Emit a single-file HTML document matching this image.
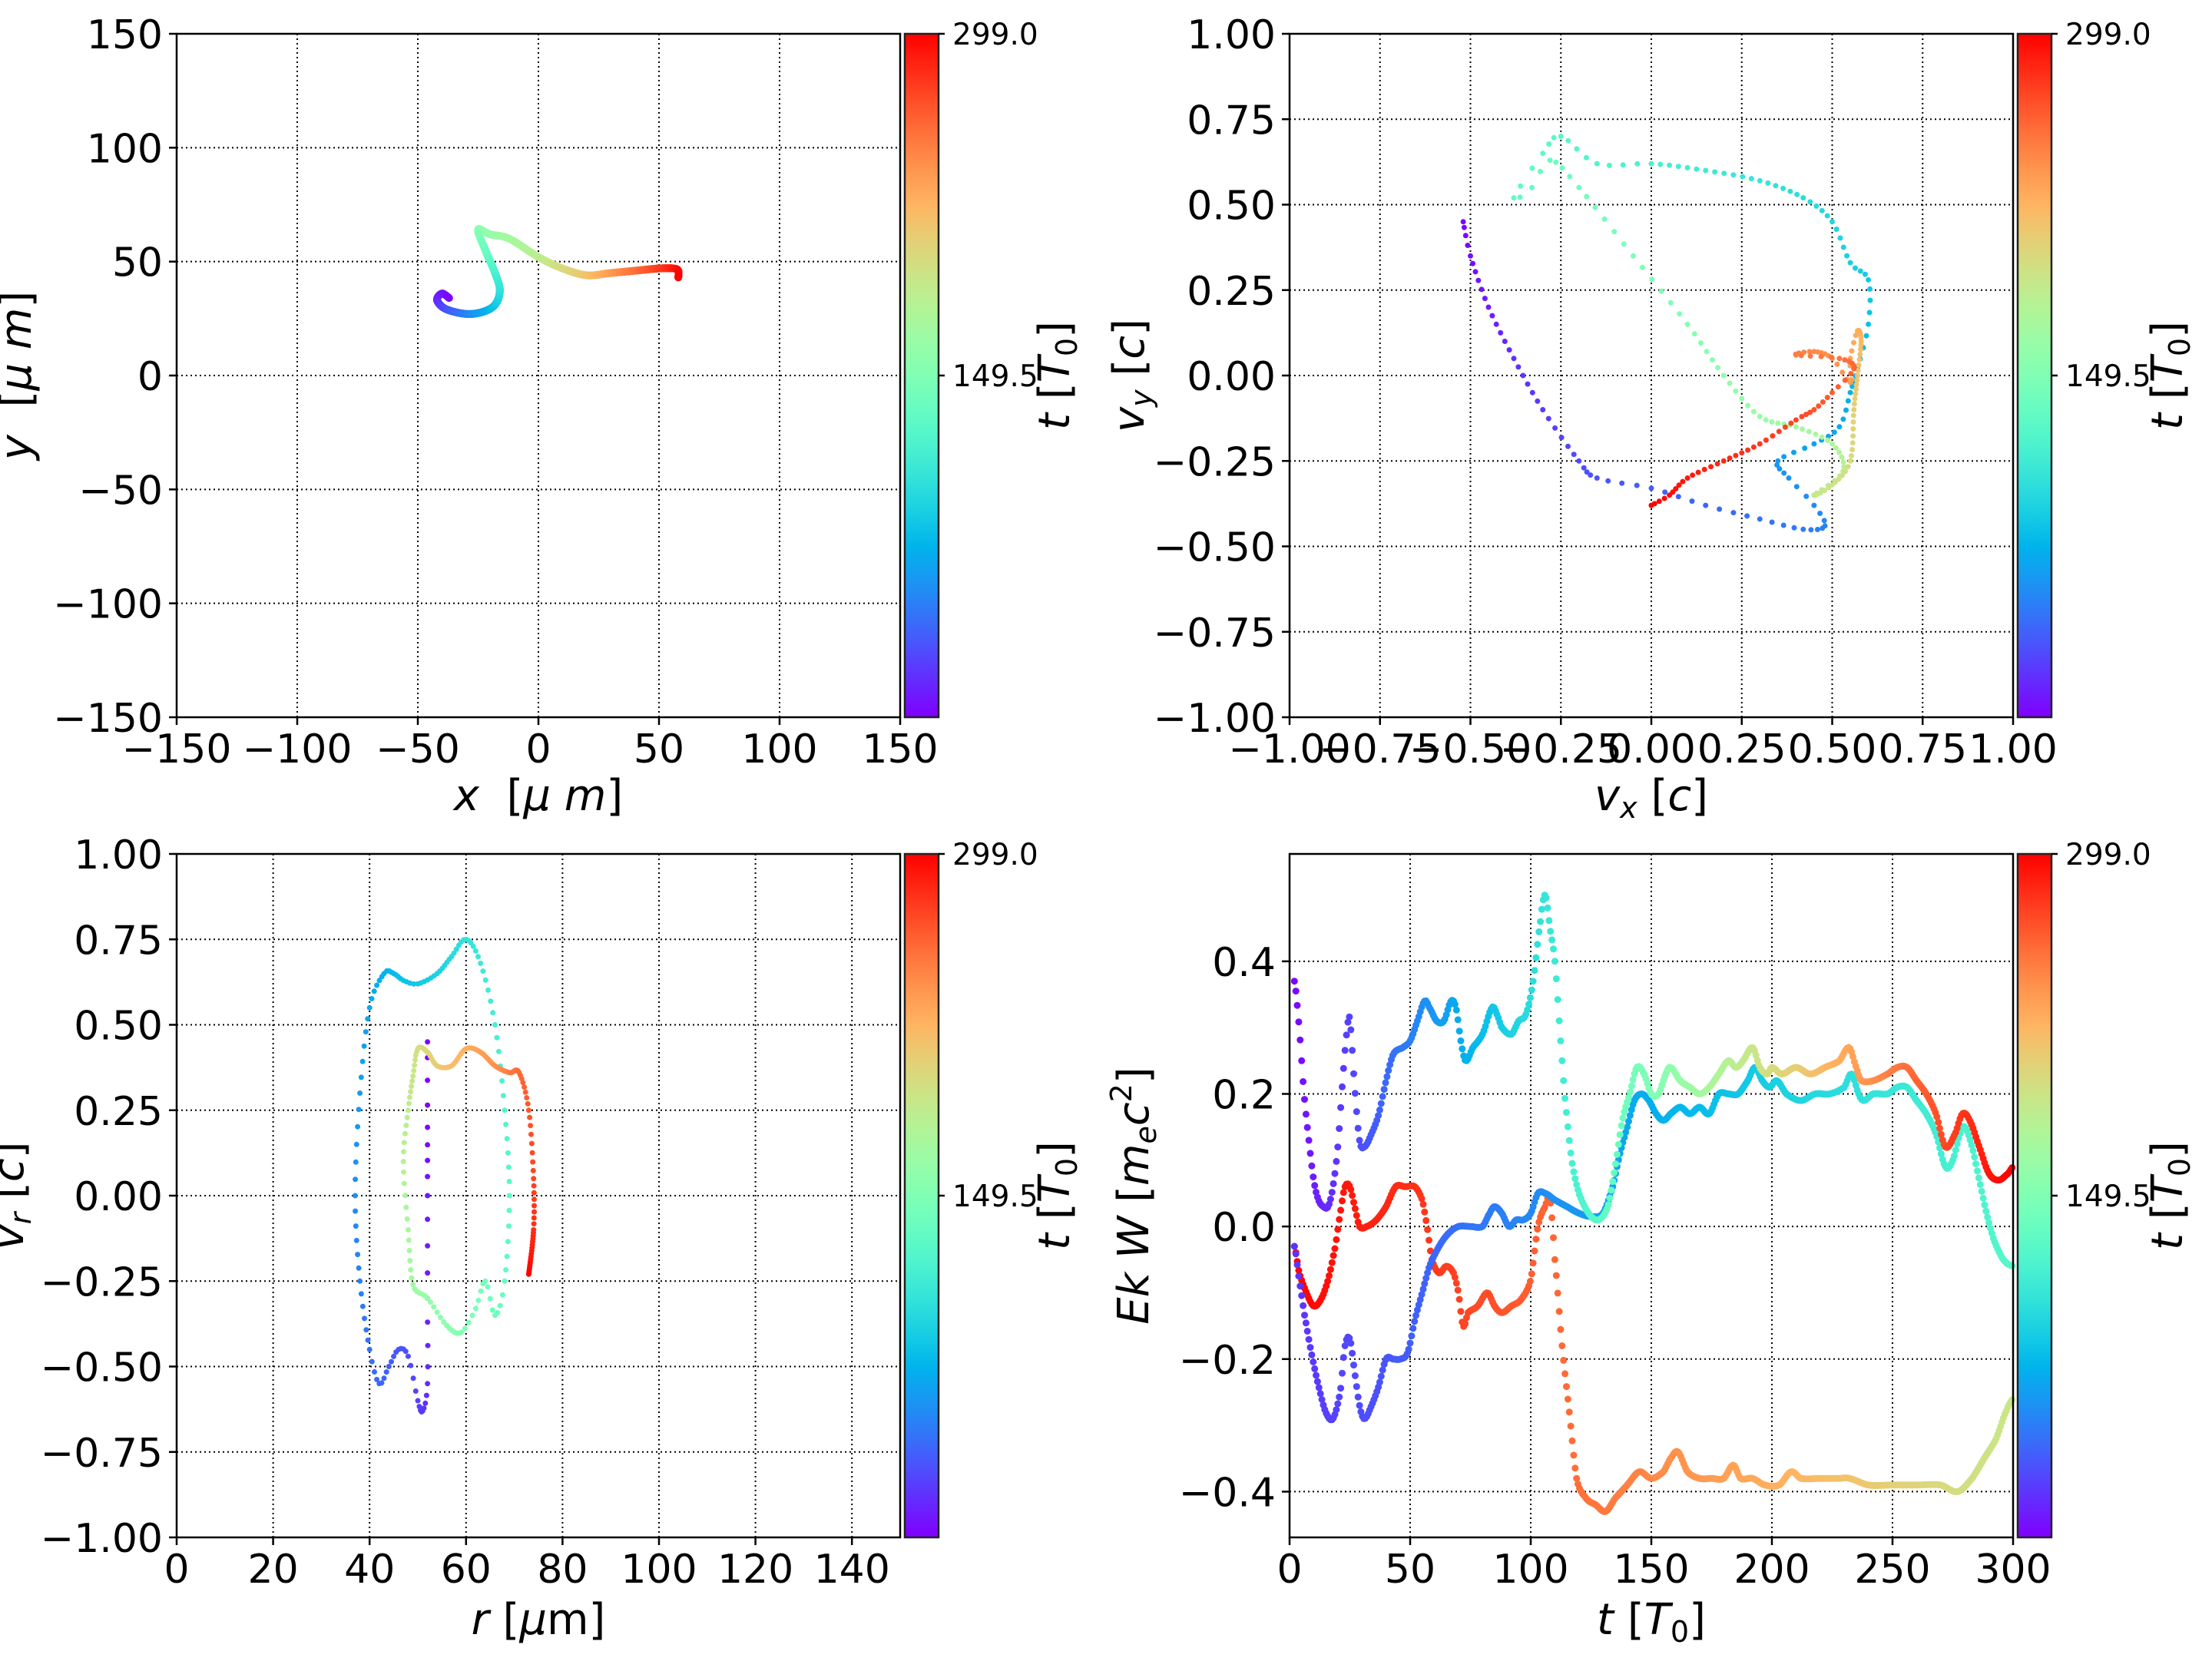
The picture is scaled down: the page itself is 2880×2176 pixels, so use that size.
<!DOCTYPE html>
<html><head><meta charset="utf-8">
<style>
html,body{margin:0;padding:0;background:#fff;}
svg{display:block;}
text{font-family:"DejaVu Sans","Liberation Sans",sans-serif;fill:#000;}
</style></head>
<body>
<svg id="s" xmlns="http://www.w3.org/2000/svg" width="2880" height="2176" viewBox="0 0 2880 2176">
<defs>
<linearGradient id="cb" x1="0" y1="1" x2="0" y2="0"></linearGradient>
</defs>
<g id="root"></g>
</svg>
<script>
const NS="http://www.w3.org/2000/svg";
const root=document.getElementById('root');
function rb(c){c=Math.max(0,Math.min(1,c));
 let r=Math.min(1,Math.abs(2*c-0.5)),g=Math.sin(Math.PI*c),b=Math.cos(Math.PI*c/2);
 return 'rgb('+Math.round(r*255)+','+Math.round(Math.max(0,g)*255)+','+Math.round(Math.max(0,b)*255)+')';}
const gr=document.getElementById('cb');
for(let i=0;i<=20;i++){const st=document.createElementNS(NS,'stop');st.setAttribute('offset',(i/20));st.setAttribute('stop-color',rb(i/20));gr.appendChild(st);}
let out='';
function T(x,y,s,sz,anchor,extra){out+=`<text x="${x}" y="${y}" font-size="${sz}" text-anchor="${anchor}" ${extra||''}>${s}</text>`;}
function fmt(v,d){let s=v.toFixed(d);if(Math.abs(v)<1e-9)s=(0).toFixed(d);return s.replace('-','\u2212');}
function axes(P){
 const {x0,x1,y0,y1,xl,yl,xt,yt,xd,yd}=P;
 const X=v=>x0+(v-xl[0])/(xl[1]-xl[0])*(x1-x0);
 const Y=v=>y1-(v-yl[0])/(yl[1]-yl[0])*(y1-y0);
 P.X=X;P.Y=Y;
 for(const v of xt){const px=X(v);
  out+=`<line x1="${px}" y1="${y0}" x2="${px}" y2="${y1}" stroke="#000" stroke-width="2" stroke-dasharray="2,4"/>`;
  out+=`<line x1="${px}" y1="${y1}" x2="${px}" y2="${y1+10}" stroke="#000" stroke-width="2.5"/>`;
  T(px,y1+59,fmt(v,xd),52,'middle');}
 for(const v of yt){const py=Y(v);
  out+=`<line x1="${x0}" y1="${py}" x2="${x1}" y2="${py}" stroke="#000" stroke-width="2" stroke-dasharray="2,4"/>`;
  out+=`<line x1="${x0-10}" y1="${py}" x2="${x0}" y2="${py}" stroke="#000" stroke-width="2.5"/>`;
  T(x0-18,py+19,fmt(v,yd),52,'end');}
}
function frame(P){out+=`<rect x="${P.x0}" y="${P.y0}" width="${P.x1-P.x0}" height="${P.y1-P.y0}" fill="none" stroke="#000" stroke-width="2.5"/>`;}
function cbar(cx,y0,y1,lblx){
 out+=`<rect x="${cx}" y="${y0}" width="44" height="${y1-y0}" fill="url(#cb)" stroke="#222" stroke-width="2.5"/>`;
 const ym=(y0+y1)/2;
 out+=`<line x1="${cx+44}" y1="${y0}" x2="${cx+52}" y2="${y0}" stroke="#000" stroke-width="2.5"/>`;
 out+=`<line x1="${cx+44}" y1="${ym}" x2="${cx+52}" y2="${ym}" stroke="#000" stroke-width="2.5"/>`;
 T(cx+62,y0+14,'299.0',39,'start');T(cx+62,ym+14,'149.5',39,'start');
 out+=`<text transform="translate(${lblx},${ym}) rotate(-90)" font-size="56" text-anchor="middle"><tspan font-style="italic">t</tspan> [<tspan font-style="italic">T</tspan><tspan font-size="38" dy="10">0</tspan><tspan dy="-10">]</tspan></text>`;
}
function cr(p0,p1,p2,p3,f){const f2=f*f,f3=f2*f;
 return 0.5*((2*p1)+(-p0+p2)*f+(2*p0-5*p1+4*p2-p3)*f2+(-p0+3*p1-3*p2+p3)*f3);}
function gen(P,pts,dt,r,cf,mode){
 if(mode==='ty')pts=pts.map(p=>[p[0],p[0],p[1]]);
 const n=pts.length,t0=pts[0][0],tn=pts[n-1][0];let k=0;
 for(let t=t0;t<=tn+1e-9;t+=dt){
  while(k<n-2&&pts[k+1][0]<t)k++;
  const p0=pts[Math.max(0,k-1)],p=pts[k],q=pts[k+1],q2=pts[Math.min(n-1,k+2)];
  const f=Math.max(0,Math.min(1,(t-p[0])/(q[0]-p[0]||1)));
  let a,b;
  if(mode==='ty'){a=t;}else{a=cr(p0[1],p[1],q[1],q2[1],f);}
  b=cr(p0[2],p[2],q[2],q2[2],f);
  out+=`<circle cx="${P.X(a).toFixed(1)}" cy="${P.Y(b).toFixed(1)}" r="${r}" fill="${rb(cf(t))}"/>`;
 }
}
const rng=(a,b,s)=>{let r=[];for(let v=a;v<=b+1e-9;v+=s)r.push(+v.toFixed(6));return r;};
const P1={x0:230,x1:1172,y0:44,y1:934,xl:[-150,150],yl:[-150,150],xt:rng(-150,150,50),yt:rng(-150,150,50),xd:0,yd:0};
const P2={x0:1679,x1:2621,y0:44,y1:934,xl:[-1,1],yl:[-1,1],xt:rng(-1,1,0.25),yt:rng(-1,1,0.25),xd:2,yd:2};
const P3={x0:230,x1:1172,y0:1112,y1:2002,xl:[0,150],yl:[-1,1],xt:rng(0,140,20),yt:rng(-1,1,0.25),xd:0,yd:2};
const P4={x0:1679,x1:2621,y0:1112,y1:2002,xl:[0,300],yl:[-0.469,0.562],xt:rng(0,300,50),yt:rng(-0.4,0.4,0.2),xd:0,yd:1};
[P1,P2,P3,P4].forEach(axes);
const ct=t=>t/299;
gen(P1,[[0,-37,34],[5,-40,36],[12,-42,33],[30,-38,29],[55,-28,27],[80,-19,30],[100,-16,37],[115,-18,45],[135,-22,55],[150,-25,64],[160,-20,62],[170,-12,60],[185,0,52],[200,10,47],[215,20,44],[235,30,45],[255,40,46],[275,50,47],[288,56,47],[294,58,46],[299,58,43]],0.25,5,ct);
gen(P2,[[0,-0.52,0.45],[4,-0.5,0.35],[10,-0.45,0.2],[16,-0.38,0.05],[22,-0.3,-0.1],[28,-0.2,-0.25],[32,-0.15,-0.3],[36,0.0,-0.33],[40,0.15,-0.38],[44,0.3,-0.42],[48,0.42,-0.45],[52,0.48,-0.44],[55,0.45,-0.38],[58,0.38,-0.3],[62,0.35,-0.25],[66,0.45,-0.2],[70,0.52,-0.15],[74,0.55,-0.05],[78,0.57,0.02],[82,0.6,0.15],[86,0.6,0.28],[90,0.55,0.33],[95,0.5,0.45],[100,0.42,0.52],[106,0.3,0.57],[112,0.15,0.6],[118,0.0,0.62],[122,-0.15,0.62],[126,-0.25,0.7],[129,-0.3,0.65],[132,-0.38,0.52],[134,-0.33,0.55],[136,-0.28,0.63],[140,-0.2,0.55],[146,-0.05,0.35],[152,0.1,0.15],[158,0.2,0.0],[164,0.3,-0.12],[170,0.4,-0.15],[176,0.5,-0.2],[182,0.53,-0.28],[188,0.45,-0.35],[194,0.5,-0.32],[200,0.55,-0.25],[208,0.56,-0.1],[215,0.57,0.0],[222,0.58,0.1],[228,0.57,0.13],[232,0.55,0.05],[236,0.55,-0.02],[240,0.5,0.05],[245,0.45,0.07],[250,0.4,0.06],[255,0.52,0.05],[260,0.56,0.02],[264,0.5,-0.05],[268,0.45,-0.1],[272,0.4,-0.13],[278,0.3,-0.2],[284,0.2,-0.25],[290,0.1,-0.3],[295,0.05,-0.35],[299,0.0,-0.38]],1,3.5,ct);
gen(P3,[[0,52,0.45],[4,52,0.2],[8,52,0],[12,52,-0.3],[16,52,-0.55],[20,51,-0.63],[24,50,-0.6],[28,48,-0.47],[32,46,-0.45],[36,44,-0.5],[40,42,-0.55],[44,40,-0.45],[50,38,-0.25],[56,37,0],[62,38,0.3],[68,40,0.55],[74,43,0.65],[78,45,0.65],[82,47,0.63],[86,50,0.62],[92,54,0.65],[98,57,0.7],[104,60,0.75],[110,63,0.68],[116,66,0.5],[122,68,0.25],[128,69,0],[134,68,-0.25],[138,66,-0.35],[142,64,-0.25],[146,62,-0.33],[150,59,-0.4],[156,56,-0.38],[162,52,-0.3],[168,49,-0.26],[174,48,-0.1],[180,47,0.1],[186,48,0.25],[192,49,0.35],[198,50,0.43],[204,52,0.42],[210,54,0.38],[218,57,0.38],[226,60,0.43],[234,63,0.42],[242,66,0.38],[250,69,0.36],[258,71,0.36],[266,73,0.25],[274,74,0.05],[282,74,-0.1],[299,73,-0.23]],1,3.5,ct);
const A=[[2,0.37],[4,0.3],[6,0.2],[8,0.13],[10,0.07],[12,0.04],[14,0.03],[16,0.03],[18,0.06],[20,0.12],[22,0.22],[24,0.3],[25,0.31],[27,0.21],[29,0.13],[31,0.12],[34,0.14],[37,0.17],[40,0.22],[43,0.26],[47,0.27],[50,0.28],[53,0.31],[56,0.34],[58,0.33],[61,0.31],[64,0.31],[67,0.34],[69,0.33],[71,0.28],[73,0.25],[76,0.27],[80,0.29],[84,0.33],[86,0.32],[88,0.3],[92,0.29],[95,0.31],[98,0.32],[101,0.37],[104,0.46],[106,0.5],[108,0.45],[110,0.4],[112,0.3],[114,0.2],[117,0.1],[120,0.05],[124,0.02],[128,0.01],[132,0.03],[135,0.09],[138,0.16],[141,0.2],[144,0.24],[147,0.23],[150,0.2],[153,0.2],[156,0.23],[158,0.24],[162,0.22],[166,0.21],[170,0.2],[174,0.21],[178,0.23],[182,0.25],[185,0.24],[188,0.25],[192,0.27],[195,0.24],[198,0.23],[200,0.24],[204,0.23],[210,0.24],[216,0.23],[222,0.24],[228,0.25],[232,0.27],[235,0.24],[237,0.22],[242,0.22],[248,0.23],[252,0.24],[256,0.24],[260,0.22],[264,0.2],[268,0.17],[272,0.12],[276,0.14],[279,0.17],[282,0.16],[286,0.12],[290,0.08],[294,0.07],[298,0.08],[300,0.09]];
const B=[[2,-0.03],[4,-0.07],[7,-0.1],[10,-0.12],[13,-0.11],[16,-0.08],[19,-0.03],[21,0.02],[23,0.06],[25,0.06],[27,0.03],[29,0.0],[32,0.0],[36,0.01],[40,0.03],[44,0.06],[48,0.06],[52,0.06],[55,0.04],[57,0.0],[59,-0.05],[62,-0.07],[65,-0.06],[68,-0.07],[70,-0.1],[72,-0.15],[74,-0.13],[78,-0.12],[82,-0.1],[85,-0.12],[88,-0.13],[92,-0.12],[96,-0.11],[100,-0.08],[103,0.0],[106,0.03],[108,0.04],[110,-0.05],[113,-0.18],[116,-0.28],[119,-0.38],[123,-0.41],[127,-0.42],[131,-0.43],[135,-0.41],[140,-0.39],[145,-0.37],[150,-0.38],[155,-0.37],[158,-0.35],[161,-0.34],[165,-0.37],[170,-0.38],[175,-0.38],[180,-0.38],[184,-0.36],[187,-0.38],[192,-0.38],[197,-0.39],[203,-0.39],[208,-0.37],[212,-0.38],[220,-0.38],[228,-0.38],[232,-0.38],[240,-0.39],[250,-0.39],[260,-0.39],[270,-0.39],[277,-0.4],[283,-0.38],[288,-0.35],[293,-0.32],[297,-0.28],[300,-0.26]];
const C=[[2,-0.03],[4,-0.08],[6,-0.13],[9,-0.19],[12,-0.24],[15,-0.28],[18,-0.29],[21,-0.25],[23,-0.18],[25,-0.17],[27,-0.22],[29,-0.27],[31,-0.29],[34,-0.27],[37,-0.24],[40,-0.2],[43,-0.2],[46,-0.2],[49,-0.19],[52,-0.14],[55,-0.1],[58,-0.06],[62,-0.03],[66,-0.01],[70,0.0],[75,0.0],[80,0.0],[83,0.02],[85,0.03],[88,0.02],[91,0.0],[94,0.01],[97,0.01],[100,0.02],[103,0.05],[106,0.05],[110,0.04],[115,0.03],[120,0.02],[125,0.015],[130,0.02],[134,0.06],[137,0.11],[140,0.15],[143,0.19],[146,0.2],[149,0.19],[152,0.17],[155,0.16],[158,0.17],[162,0.18],[166,0.17],[170,0.18],[174,0.17],[178,0.2],[182,0.2],[186,0.2],[190,0.22],[193,0.24],[196,0.22],[199,0.21],[202,0.22],[206,0.2],[212,0.19],[218,0.2],[224,0.2],[230,0.21],[233,0.23],[236,0.2],[238,0.19],[242,0.2],[248,0.2],[252,0.21],[256,0.21],[260,0.19],[264,0.17],[268,0.14],[272,0.09],[275,0.1],[278,0.14],[280,0.15],[283,0.12],[286,0.07],[289,0.02],[292,-0.02],[296,-0.05],[300,-0.06]];
gen(P4,B,0.6,4.5,t=>1-t*0.36/300,'ty');
gen(P4,C,0.6,4.5,t=>0.06+t*0.36/300,'ty');
gen(P4,A,0.6,4.5,ct,'ty');
[P1,P2,P3,P4].forEach(frame);
cbar(1178,44,934,1392);cbar(2627,44,934,2841);cbar(1178,1112,2002,1392);cbar(2627,1112,2002,2841);
const it=s=>`<tspan font-style="italic">${s}</tspan>`;
T(701,1055,`${it('x')}  [${it('μ m')}]`,56,'middle','xml:space="preserve"');
T(2150,1055,`${it('v')}<tspan font-size="38" dy="10" font-style="italic">x</tspan><tspan dy="-10"> [</tspan>${it('c')}]`,56,'middle');
T(701,2128,`${it('r')} [${it('μ')}m]`,56,'middle');
T(2150,2128,`${it('t')} [${it('T')}<tspan font-size="38" dy="10">0</tspan><tspan dy="-10">]</tspan>`,56,'middle');
out+=`<text transform="translate(40,489) rotate(-90)" font-size="56" text-anchor="middle" xml:space="preserve">${it('y')}  [${it('μ m')}]</text>`;
out+=`<text transform="translate(1489,489) rotate(-90)" font-size="56" text-anchor="middle">${it('v')}<tspan font-size="38" dy="10" font-style="italic">y</tspan><tspan dy="-10"> [</tspan>${it('c')}]</text>`;
out+=`<text transform="translate(30,1557) rotate(-90)" font-size="56" text-anchor="middle">${it('v')}<tspan font-size="38" dy="10" font-style="italic">r</tspan><tspan dy="-10"> [</tspan>${it('c')}]</text>`;
out+=`<text transform="translate(1495,1557) rotate(-90)" font-size="56" text-anchor="middle">${it('Ek W')} [${it('m')}<tspan font-size="38" dy="10" font-style="italic">e</tspan><tspan dy="-10" font-style="italic">c</tspan><tspan font-size="38" dy="-22">2</tspan><tspan dy="22">]</tspan></text>`;
root.innerHTML=out;
</script>
</body></html>
